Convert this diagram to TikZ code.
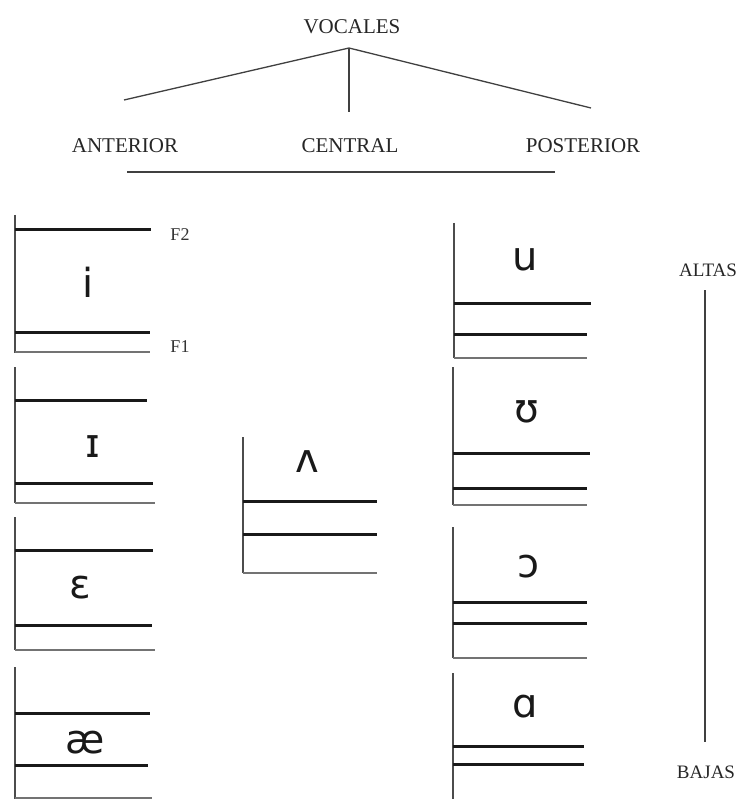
\documentclass[tikz,border=0pt]{standalone}
\usepackage{fontspec}
\setmainfont{Liberation Serif}
\newfontfamily\ipafont{DejaVu Sans}
\begin{document}
\begin{tikzpicture}[x=1pt,y=-1pt,
 lbl/.style={font=\fontsize{21}{21}\selectfont, text=black!85, inner sep=0pt},
 small/.style={font=\fontsize{18}{18}\selectfont, text=black!80, inner sep=0pt},
 side/.style={font=\fontsize{19}{19}\selectfont, text=black!85, inner sep=0pt},
 ipa/.style={font=\ipafont\fontsize{40}{40}\selectfont, text=black!90, inner sep=0pt},
 tree/.style={line width=1.3pt, draw=black!75},
 axisline/.style={line width=1.4pt, draw=black!70},
 formant/.style={line width=3pt, draw=black!90},
 baseline/.style={line width=1.2pt, draw=black!55}]
\useasboundingbox[fill=white] (0,0) rectangle (744,799);

% tree
\node[lbl] (voc) at (352,27) {VOCALES};
\node[lbl] (ant) at (125,146) {ANTERIOR};
\node[lbl] (cen) at (350,146) {CENTRAL};
\node[lbl] (pos) at (583,146) {POSTERIOR};
\coordinate (apex) at (349,48);
\coordinate (lend) at (124,100);
\coordinate (cend) at (349,112);
\coordinate (rend) at (591,108);
\draw[tree] (lend) -- (apex) -- (rend);
\draw[tree] (apex) -- (cend);
\coordinate (h1) at (127,172);
\coordinate (h2) at (555,172);
\draw[tree] (h1) -- (h2);

% left column
\draw[axisline] (15,215) -- (15,353);
\draw[formant] (15,230) -- (151,230);
\draw[formant] (15,332) -- (150,332);
\draw[baseline] (15,352) -- (150,352);
\node[ipa] (i) at (88,282) {i};
\node[small] (f2) at (180,235) {F2};
\node[small] (f1) at (180,347) {F1};

\draw[axisline] (15,367) -- (15,503);
\draw[formant] (15,400) -- (147,400);
\draw[formant] (15,483) -- (153,483);
\draw[baseline] (15,503) -- (155,503);
\node[ipa] (I) at (93,447) {ɪ};

\draw[axisline] (15,517) -- (15,650);
\draw[formant] (15,550) -- (153,550);
\draw[formant] (15,625) -- (152,625);
\draw[baseline] (15,650) -- (155,650);
\node[ipa] (E) at (80,588) {ɛ};

\draw[axisline] (15,667) -- (15,799);
\draw[formant] (15,713) -- (150,713);
\draw[formant] (15,765) -- (148,765);
\draw[baseline] (15,798) -- (152,798);
\node[ipa] (ae) at (85,743) {æ};

% central
\draw[axisline] (243,437) -- (243,573);
\draw[formant] (243,501) -- (377,501);
\draw[formant] (243,534) -- (377,534);
\draw[baseline] (243,573) -- (377,573);
\node[ipa] (V) at (307,462) {ʌ};

% right column
\draw[axisline] (454,223) -- (454,358);
\draw[formant] (454,303) -- (591,303);
\draw[formant] (454,334) -- (587,334);
\draw[baseline] (454,358) -- (587,358);
\node[ipa] (u) at (525,260) {u};

\draw[axisline] (453,367) -- (453,505);
\draw[formant] (453,453) -- (590,453);
\draw[formant] (453,488) -- (587,488);
\draw[baseline] (453,505) -- (587,505);
\node[ipa] (U) at (527,412) {ʊ};

\draw[axisline] (453,527) -- (453,658);
\draw[formant] (453,602) -- (587,602);
\draw[formant] (453,623) -- (587,623);
\draw[baseline] (453,658) -- (587,658);
\node[ipa] (O) at (528,567) {ɔ};

\draw[axisline] (453,673) -- (453,799);
\draw[formant] (453,746) -- (584,746);
\draw[formant] (453,764) -- (584,764);
\node[ipa] (A) at (525,707) {ɑ};

% height scale
\node[side] (altas) at (708,270) {ALTAS};
\node[side] (bajas) at (706,772) {BAJAS};
\coordinate (s1) at (705,290);
\coordinate (s2) at (705,742);
\draw[tree] (s1) -- (s2);
\end{tikzpicture}
\end{document}
